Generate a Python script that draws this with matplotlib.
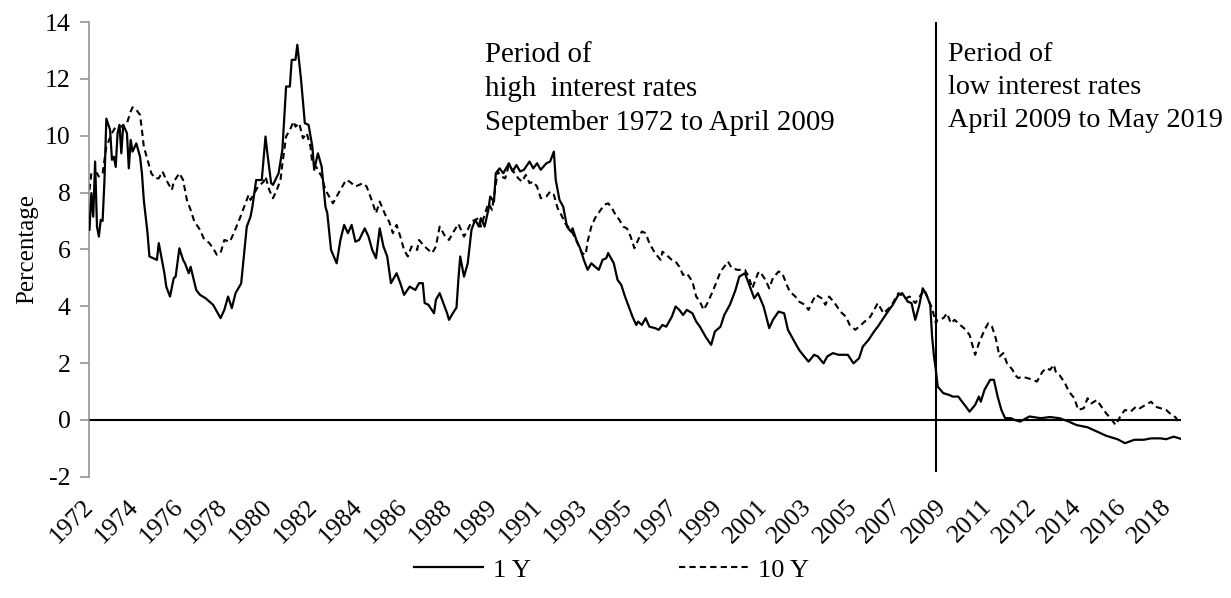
import matplotlib
matplotlib.use("Agg")
import matplotlib.pyplot as plt
from matplotlib.lines import Line2D


# Excel-style category axis: one label every 24 observations
year_labels = ["1972", "1974", "1976", "1978", "1980", "1982", "1984", "1986",
               "1988", "1989", "1991", "1993", "1995", "1997", "1999", "2001",
               "2003", "2005", "2007", "2009", "2011", "2012", "2014", "2016",
               "2018"]
label_step = 24
n_obs = 583
split_obs = 452   # April 2009

# 1 year rate (observation index, percentage)
obs_1y = [0, 1, 2, 3, 4, 5, 6, 7, 8, 9, 11, 12, 13, 14, 15, 16, 17, 18, 20, 21,
          22, 23, 25, 27, 28, 29, 31, 32, 34, 36, 37, 38, 40, 41, 43, 45, 46, 48,
          50, 51, 53, 54, 57, 59, 62, 66, 70, 72, 74, 76, 78, 81, 84, 86, 87, 89,
          92, 94, 95, 97, 98, 101, 103, 105, 107, 108, 110, 111, 113, 115, 117,
          119, 120, 122, 124, 126, 127, 129, 132, 134, 136, 138, 140, 142, 144,
          147, 149, 151, 153, 155, 157, 159, 161, 164, 166, 168, 171, 174, 176,
          178, 179, 181, 184, 185, 187, 189, 191, 192, 194, 196, 197, 198, 200,
          202, 204, 206, 208, 209, 211, 213, 214, 216, 217, 219, 221, 224, 226,
          228, 230, 232, 235, 237, 239, 241, 244, 246, 248, 249, 251, 253, 255,
          257, 258, 260, 262, 264, 266, 268, 270, 272, 274, 276, 277, 280, 282,
          284, 286, 288, 290, 292, 293, 295, 297, 299, 302, 304, 306, 308, 311,
          313, 315, 317, 319, 322, 324, 326, 329, 332, 334, 337, 339, 342, 345,
          347, 350, 351, 354, 355, 357, 360, 363, 365, 368, 371, 373, 376, 379,
          381, 384, 387, 389, 392, 394, 397, 400, 403, 405, 408, 411, 413, 416,
          419, 421, 424, 427, 429, 432, 434, 437, 439, 441, 443, 445, 447, 449,
          450, 451, 452, 453, 456, 459, 461, 464, 466, 468, 470, 473, 475, 476,
          478, 481, 483, 485, 487, 489, 492, 494, 497, 502, 508, 513, 518, 523,
          527, 533, 538, 543, 549, 553, 558, 563, 567, 572, 575, 579, 583]
rate_1y = [6.69, 7.98, 7.15, 9.09, 6.80, 6.45, 7.04, 7.00, 8.44, 10.60, 10.20,
           9.15, 9.26, 8.90, 10.09, 10.38, 9.38, 10.38, 10.09, 8.85, 9.85, 9.44,
           9.73, 9.26, 8.68, 7.74, 6.57, 5.75, 5.69, 5.63, 6.22, 5.87, 5.16, 4.69,
           4.34, 4.99, 5.04, 6.04, 5.63, 5.51, 5.16, 5.39, 4.57, 4.40, 4.28, 4.05,
           3.58, 3.87, 4.34, 3.93, 4.46, 4.80, 6.80, 7.15, 7.50, 8.44, 8.44, 9.97,
           9.38, 8.33, 8.27, 8.68, 9.50, 11.73, 11.73, 12.67, 12.67, 13.20, 11.96,
           10.44, 10.38, 9.62, 8.80, 9.38, 8.91, 7.50, 7.27, 5.98, 5.51, 6.33,
           6.86, 6.57, 6.86, 6.27, 6.33, 6.74, 6.45, 5.98, 5.69, 6.74, 6.10, 5.75,
           4.81, 5.16, 4.81, 4.40, 4.69, 4.57, 4.81, 4.81, 4.11, 4.05, 3.75, 4.22,
           4.46, 4.11, 3.75, 3.52, 3.75, 3.95, 4.93, 5.75, 5.04, 5.51, 6.69, 7.04,
           6.80, 7.10, 6.80, 7.39, 7.86, 7.68, 8.68, 8.85, 8.68, 9.03, 8.74, 8.97,
           8.74, 8.80, 9.09, 8.85, 9.03, 8.80, 9.03, 9.09, 9.44, 8.44, 7.74, 7.50,
           6.80, 6.63, 6.74, 6.33, 6.04, 5.63, 5.28, 5.51, 5.39, 5.28, 5.63, 5.69,
           5.87, 5.51, 4.93, 4.75, 4.34, 3.99, 3.63, 3.34, 3.46, 3.34, 3.58, 3.28,
           3.23, 3.17, 3.34, 3.28, 3.63, 3.99, 3.87, 3.69, 3.87, 3.75, 3.46, 3.28,
           2.93, 2.64, 3.11, 3.28, 3.69, 4.05, 4.57, 5.04, 5.16, 4.99, 4.46, 4.28,
           4.46, 3.99, 3.23, 3.52, 3.81, 3.75, 3.17, 2.81, 2.46, 2.29, 2.05, 2.29,
           2.23, 1.99, 2.23, 2.35, 2.29, 2.29, 2.29, 1.99, 2.17, 2.58, 2.81, 3.11,
           3.28, 3.58, 3.87, 4.05, 4.40, 4.46, 4.16, 4.11, 3.52, 3.99, 4.63, 4.40,
           4.05, 2.93, 2.23, 1.76, 1.17, 0.94, 0.88, 0.82, 0.82, 0.64, 0.47, 0.29,
           0.53, 0.82, 0.64, 1.06, 1.41, 1.41, 0.82, 0.35, 0.06, 0.06, 0.00, -0.06,
           0.12, 0.06, 0.10, 0.06, -0.06, -0.18, -0.26, -0.41, -0.56, -0.68, -0.82,
           -0.70, -0.70, -0.65, -0.65, -0.68, -0.59, -0.67]

# 10 year rate (observation index, percentage)
obs_10y = [0, 1, 4, 5, 7, 9, 12, 14, 17, 20, 22, 23, 25, 27, 28, 29, 31, 33, 35,
           37, 39, 41, 44, 45, 48, 50, 52, 54, 56, 59, 61, 64, 66, 68, 70, 72, 75,
           77, 80, 82, 85, 86, 90, 93, 94, 96, 98, 100, 102, 103, 105, 107, 109,
           110, 112, 114, 116, 118, 119, 121, 124, 126, 128, 130, 133, 135, 137,
           139, 142, 144, 146, 148, 151, 153, 155, 158, 160, 162, 164, 166, 168,
           170, 172, 175, 176, 179, 181, 183, 185, 187, 190, 192, 194, 197, 200,
           202, 204, 208, 209, 213, 215, 218, 220, 222, 224, 227, 229, 231, 233,
           235, 237, 239, 241, 244, 246, 248, 250, 252, 254, 257, 259, 261, 263,
           265, 266, 268, 270, 273, 275, 277, 279, 281, 283, 285, 287, 289, 291,
           293, 295, 297, 299, 302, 305, 306, 309, 311, 313, 315, 317, 319, 322,
           324, 326, 328, 330, 332, 335, 337, 339, 341, 343, 346, 350, 352, 354,
           357, 358, 361, 363, 365, 368, 370, 372, 374, 377, 379, 382, 384, 386,
           388, 391, 393, 395, 398, 401, 404, 406, 409, 412, 414, 417, 420, 421,
           424, 427, 429, 432, 436, 438, 441, 444, 446, 448, 450, 452, 453, 456,
           458, 460, 462, 465, 467, 470, 471, 473, 475, 478, 480, 482, 484, 486,
           488, 490, 493, 494, 496, 498, 501, 506, 509, 511, 513, 515, 516, 518,
           521, 523, 526, 528, 531, 533, 535, 538, 541, 543, 546, 548, 551, 553,
           556, 559, 561, 564, 567, 569, 572, 575, 577, 580, 582]
rate_10y = [8.09, 8.68, 8.68, 8.56, 8.68, 9.62, 10.09, 10.32, 10.32, 10.44, 10.85,
            11.00, 10.91, 10.73, 10.20, 9.62, 9.15, 8.68, 8.50, 8.50, 8.74, 8.44,
            8.09, 8.38, 8.68, 8.44, 7.74, 7.39, 6.98, 6.69, 6.39, 6.22, 6.04, 5.81,
            5.87, 6.33, 6.27, 6.57, 7.04, 7.39, 7.92, 7.74, 8.21, 8.38, 8.56, 8.09,
            7.80, 8.09, 8.44, 9.00, 9.97, 10.20, 10.50, 10.32, 10.44, 9.91, 10.09,
            9.62, 9.03, 8.91, 8.56, 8.09, 7.86, 7.62, 7.98, 8.21, 8.44, 8.38, 8.21,
            8.27, 8.33, 8.21, 7.68, 7.27, 7.68, 7.21, 6.98, 6.57, 6.86, 6.45, 5.98,
            5.75, 6.10, 5.98, 6.33, 6.10, 5.98, 5.87, 6.10, 6.80, 6.45, 6.33, 6.57,
            6.90, 6.45, 6.69, 6.98, 7.10, 6.80, 7.62, 7.39, 8.74, 8.56, 8.50, 8.97,
            8.68, 8.50, 8.38, 8.62, 8.33, 8.38, 8.21, 7.80, 7.86, 8.03, 7.92, 7.45,
            7.21, 6.92, 6.69, 6.45, 6.16, 5.87, 5.81, 6.27, 6.80, 7.10, 7.39, 7.57,
            7.62, 7.45, 7.21, 7.04, 6.80, 6.74, 6.45, 6.04, 6.33, 6.63, 6.57, 6.22,
            5.87, 5.63, 5.92, 5.75, 5.63, 5.57, 5.39, 5.10, 5.16, 4.87, 4.34, 4.16,
            3.87, 4.11, 4.40, 4.87, 5.22, 5.39, 5.57, 5.34, 5.28, 5.28, 5.04, 4.63,
            5.16, 5.22, 4.93, 4.63, 4.99, 5.22, 5.16, 4.81, 4.51, 4.34, 4.16, 4.05,
            3.87, 4.16, 4.40, 4.28, 4.05, 4.34, 4.11, 3.81, 3.63, 3.34, 3.17, 3.34,
            3.46, 3.63, 3.99, 4.11, 3.75, 3.93, 4.11, 4.46, 4.28, 4.34, 4.11, 4.40,
            4.57, 4.22, 3.93, 3.40, 3.52, 3.58, 3.75, 3.40, 3.52, 3.34, 3.23, 2.99,
            2.75, 2.29, 2.70, 3.17, 3.40, 3.28, 2.87, 2.23, 2.35, 1.99, 1.76, 1.60,
            1.47, 1.52, 1.47, 1.35, 1.70, 1.82, 1.76, 1.94, 1.70, 1.58, 1.29, 1.00,
            0.76, 0.35, 0.41, 0.76, 0.58, 0.70, 0.41, 0.23, 0.00, -0.18, 0.18, 0.35,
            0.29, 0.47, 0.41, 0.53, 0.64, 0.47, 0.41, 0.35, 0.23, 0.09, -0.12]

high_note = "Period of\nhigh  interest rates\nSeptember 1972 to April 2009"
low_note = "Period of\nlow interest rates\nApril 2009 to May 2019"


def style_axes(ax):
	ax.set_xlim(0, n_obs)
	ax.set_ylim(-2, 14)
	ax.set_yticks(range(-2, 15, 2))
	ax.set_xticks([i * label_step for i in range(len(year_labels))])
	ax.set_xticklabels(year_labels, rotation=45, ha="right", va="center",
	                   rotation_mode="anchor")

	for side in ["top", "right", "bottom"]:
		ax.spines[side].set_visible(False)
	ax.spines["left"].set_color("#8c8c8c")
	ax.spines["left"].set_linewidth(1.1)

	ax.tick_params(axis="y", direction="out", length=6.5, width=1.1,
	               color="#8c8c8c", pad=7, labelsize=18.5)
	ax.tick_params(axis="x", length=0, pad=19, labelsize=18.5)
	ax.set_ylabel("Percentage", fontsize=18, labelpad=5)


def main():
	plt.rcParams["font.family"] = ["Liberation Serif", "DejaVu Serif"]
	plt.rcParams["axes.unicode_minus"] = False

	fig = plt.figure(figsize=(12.31, 5.98), dpi=100)
	ax = fig.add_axes([0.0727, 0.2028, 0.8868, 0.7604])

	ax.axhline(0, color="black", lw=1.5, zorder=1)
	ax.vlines(split_obs, -1.82, 14, color="black", lw=1.5, zorder=1)

	ax.plot(obs_1y, rate_1y, color="black", lw=1.6, zorder=3)
	ax.plot(obs_10y, rate_10y, color="black", lw=1.5, linestyle=(0, (3, 2)), zorder=2)

	ax.text(211, 13.3, high_note, fontsize=20.8, va="top", ha="left", linespacing=1.4)
	ax.text(458.5, 13.3, low_note, fontsize=20.3, va="top", ha="left", linespacing=1.43)

	style_axes(ax)

	handles = [Line2D([], [], color="black", lw=1.6),
	           Line2D([], [], color="black", lw=1.5, linestyle=(0, (3, 2)))]
	fig.legend(handles, ["1 Y", "10 Y"], loc="center", bbox_to_anchor=(0.497, 0.047),
	           ncol=2, frameon=False, fontsize=19, handlelength=2.6,
	           columnspacing=5.6, handletextpad=0.4)

	fig.savefig("out.png", dpi=100)


if __name__ == "__main__":
	main()
